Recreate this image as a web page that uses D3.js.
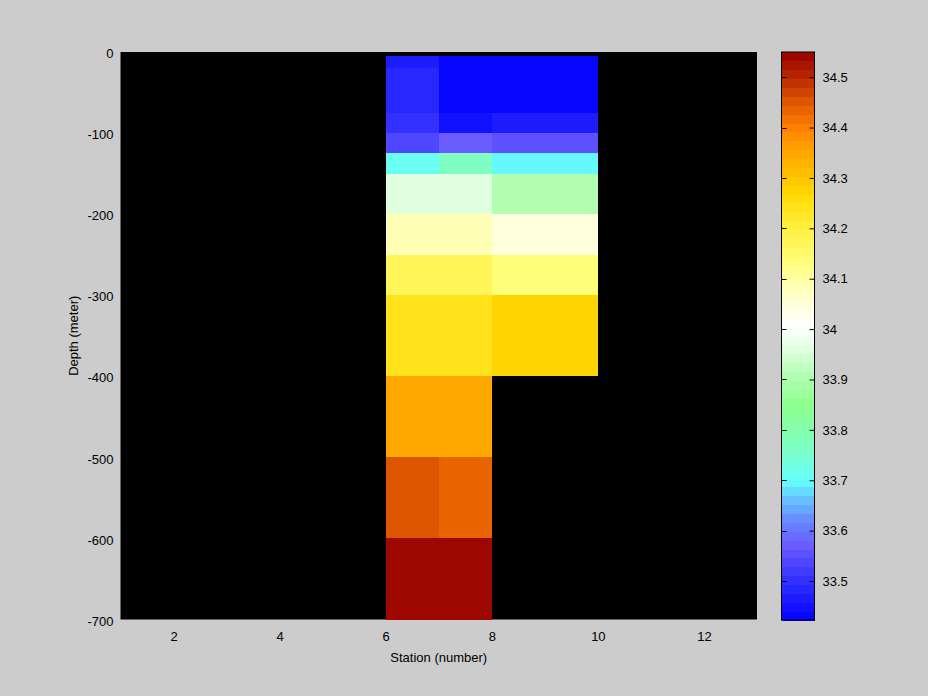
<!DOCTYPE html>
<html>
<head>
<meta charset="utf-8">
<script src="https://cdn.jsdelivr.net/npm/d3@7"></script>
<style>
  html, body { margin: 0; padding: 0; background: #cccccc; }
  svg { display: block; }
  text { font-family: "Liberation Sans", Arial, Helvetica, sans-serif; }
</style>
</head>
<body>
<svg id="chart" width="928" height="696"></svg>
<script>
// ---- data ----
const stationEdges = [6, 7, 8, 10];                 // x cell edges (station number)
const depthEdges = [-5, -20, -75, -100, -125, -150, -200, -250, -300, -400, -500, -600, -700]; // y cell edges (m)
// salinity per cell: rows = depth intervals, cols = station intervals (null = no data)
const salinity = [
  [33.475, 33.425, 33.425],
  [33.485, 33.425, 33.425],
  [33.500, 33.445, 33.460],
  [33.530, 33.565, 33.550],
  [33.720, 33.770, 33.700],
  [33.960, 33.960, 33.900],
  [34.080, 34.080, 34.040],
  [34.180, 34.180, 34.140],
  [34.240, 34.240, 34.275],
  [34.350, 34.350, null],
  [34.460, 34.440, null],
  [34.545, 34.545, null]
];
const xTicks = [2, 4, 6, 8, 10, 12];
const yTicks = [0, -100, -200, -300, -400, -500, -600, -700];
const cbTicks = [33.5, 33.6, 33.7, 33.8, 33.9, 34, 34.1, 34.2, 34.3, 34.4, 34.5];
const cRange = [33.4226, 34.55];
// colormap anchors (value, colour)
const cmapStops = [33.42, 33.50, 33.57, 33.62, 33.67, 33.70, 33.77, 33.85, 33.92, 33.97, 34.01, 34.06, 34.13, 34.20, 34.27, 34.32, 34.36, 34.40, 34.45, 34.50, 34.55];
const cmapColors = ["#0000ff", "#3030ff", "#6a5aff", "#6688ff", "#66ccff", "#66ffff", "#80ffc0", "#8cff8c", "#bbffbb", "#e8ffe8", "#ffffff", "#ffffd0", "#ffff80", "#fff040", "#ffd800", "#ffb800", "#ffa000", "#ff8000", "#e05800", "#b82800", "#990000"];
const nLevels = 64;

// ---- layout ----
const svg = d3.select("#chart");
const plot = { left: 120.5, right: 757, top: 52, bottom: 619.5 };
const cb = { left: 781.5, right: 814.5, top: 52, bottom: 620 };

const x = d3.scaleLinear().domain([1, 13]).range([plot.left, plot.right]);
const y = d3.scaleLinear().domain([-700, 0]).range([plot.bottom, plot.top]);

const cont = d3.scaleLinear().domain(cmapStops).range(cmapColors).interpolate(d3.interpolateRgb).clamp(true);
const levelColors = d3.range(nLevels).map(i => cont(cRange[0] + (i + 0.5) * (cRange[1] - cRange[0]) / nLevels));
const colorQ = d3.scaleQuantize().domain(cRange).range(levelColors);

const fmt = d => String(+(+d).toFixed(1));
const FONT = "Liberation Sans, Arial, sans-serif";

// background of axes
svg.append("rect")
  .attr("x", plot.left).attr("y", plot.top)
  .attr("width", plot.right - plot.left).attr("height", plot.bottom - plot.top)
  .attr("fill", "#000");

// cells
const cells = [];
salinity.forEach((row, r) => row.forEach((v, c) => {
  if (v !== null) cells.push({ x0: stationEdges[c], x1: stationEdges[c + 1], d0: depthEdges[r], d1: depthEdges[r + 1], v });
}));
svg.append("g").selectAll("rect").data(cells).join("rect")
  .attr("x", d => x(d.x0))
  .attr("y", d => y(d.d0))
  .attr("width", d => x(d.x1) - x(d.x0))
  .attr("height", d => y(d.d1) - y(d.d0))
  .attr("fill", d => colorQ(Math.min(Math.max(d.v, cRange[0]), cRange[1] - 1e-9)))
  .attr("shape-rendering", "crispEdges");

// axes
const xAxis = d3.axisBottom(x).tickValues(xTicks).tickSize(0).tickPadding(12).tickFormat(fmt);
const gx = svg.append("g").attr("transform", `translate(0,${plot.bottom})`).call(xAxis);
gx.select(".domain").remove();
gx.selectAll("text").attr("font-size", 13).attr("fill", "#000").attr("font-family", FONT);

const yAxis = d3.axisLeft(y).tickValues(yTicks).tickSize(0).tickPadding(7).tickFormat(fmt);
const gy = svg.append("g").attr("transform", `translate(${plot.left},1.5)`).call(yAxis);
gy.select(".domain").remove();
gy.selectAll("text").attr("font-size", 13).attr("fill", "#000").attr("font-family", FONT);

// axis labels
svg.append("text").attr("x", (plot.left + plot.right) / 2).attr("y", 662)
  .attr("text-anchor", "middle").attr("font-size", 13).text("Station (number)");
svg.append("text").attr("transform", `translate(78,${(plot.top + plot.bottom) / 2}) rotate(-90)`)
  .attr("text-anchor", "middle").attr("font-size", 13).text("Depth (meter)");

// colorbar
const cy = d3.scaleLinear().domain(cRange).range([cb.bottom, cb.top]);
const step = (cRange[1] - cRange[0]) / nLevels;
svg.append("g").selectAll("rect").data(levelColors).join("rect")
  .attr("x", cb.left)
  .attr("width", cb.right - cb.left)
  .attr("y", (d, i) => cy(cRange[0] + (i + 1) * step))
  .attr("height", (d, i) => cy(cRange[0] + i * step) - cy(cRange[0] + (i + 1) * step) + 0.5)
  .attr("fill", d => d)
  .attr("shape-rendering", "crispEdges");
svg.append("rect")
  .attr("x", cb.left).attr("y", cb.top)
  .attr("width", cb.right - cb.left).attr("height", cb.bottom - cb.top)
  .attr("fill", "none").attr("stroke", "#000").attr("stroke-width", 1);

const cbAxis = d3.axisRight(cy).tickValues(cbTicks).tickSize(-5).tickPadding(8).tickFormat(fmt);
const gcb = svg.append("g").attr("transform", `translate(${cb.right},0)`).call(cbAxis);
gcb.select(".domain").remove();
gcb.selectAll("line").attr("stroke", "#000");
gcb.selectAll("text").attr("font-size", 13).attr("fill", "#000").attr("font-family", FONT);
// left-side ticks on colorbar
svg.append("g").selectAll("line").data(cbTicks).join("line")
  .attr("x1", cb.left).attr("x2", cb.left + 5)
  .attr("y1", d => Math.round(cy(d)) + 0.5).attr("y2", d => Math.round(cy(d)) + 0.5)
  .attr("stroke", "#000");
</script>
</body>
</html>
